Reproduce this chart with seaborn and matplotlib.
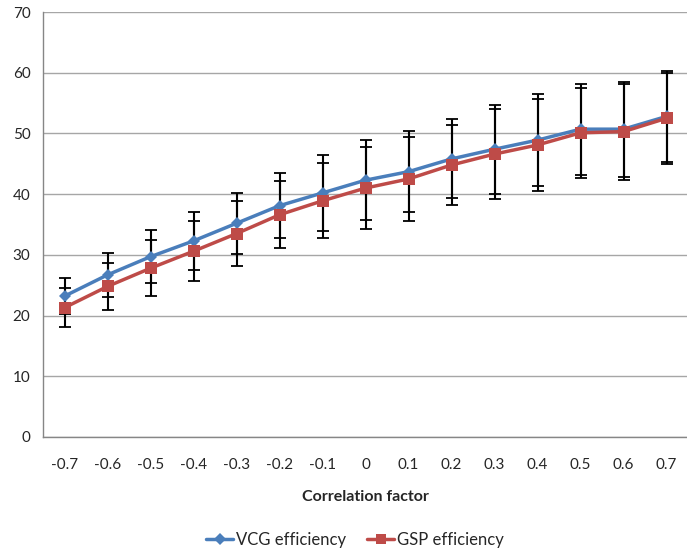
import matplotlib
matplotlib.use("Agg")
import matplotlib.pyplot as plt
import seaborn as sns
import pandas as pd
import numpy as np

categories = ["-0.7", "-0.6", "-0.5", "-0.4", "-0.3", "-0.2", "-0.1", "0",
              "0.1", "0.2", "0.3", "0.4", "0.5", "0.6", "0.7"]
vcg = [23.2, 26.7, 29.7, 32.3, 35.2, 38.1, 40.2, 42.3, 43.7, 45.8, 47.4, 48.9, 50.7, 50.7, 52.8]
gsp = [21.3, 24.8, 27.8, 30.6, 33.5, 36.6, 38.9, 41.0, 42.5, 44.8, 46.6, 48.1, 50.1, 50.3, 52.5]
vcg_err = [3.0, 3.6, 4.4, 4.8, 5.0, 5.4, 6.2, 6.6, 6.7, 6.5, 7.3, 7.6, 7.5, 7.8, 7.5]
gsp_err = [3.2, 3.9, 4.6, 4.9, 5.3, 5.5, 6.2, 6.7, 6.9, 6.6, 7.4, 7.6, 7.4, 7.9, 7.5]

sns.set_style("white")
plt.rcParams['font.family'] = ['Lato', 'DejaVu Sans']

blue = "#4A7EBB"
red = "#BE4B48"
grid_c = "#A6A6A6"

idx = np.arange(len(categories))
df = pd.DataFrame({
    "pos": np.concatenate([idx, idx]),
    "value": vcg + gsp,
    "series": ["VCG efficiency"] * len(idx) + ["GSP efficiency"] * len(idx),
})

fig = plt.figure(figsize=(6.87, 5.57), dpi=100)
ax = fig.add_axes([43 / 687, 1 - 437 / 557, (688 - 43) / 687, (437 - 12) / 557])

# error bars (behind the lines)
ax.errorbar(idx, vcg, yerr=vcg_err, fmt="none", ecolor="black", elinewidth=1.5,
            capsize=4, capthick=1.3, zorder=2)
ax.errorbar(idx, gsp, yerr=gsp_err, fmt="none", ecolor="black", elinewidth=1.5,
            capsize=4, capthick=1.3, zorder=2)

sns.lineplot(data=df, x="pos", y="value", hue="series", style="series",
             palette={"VCG efficiency": blue, "GSP efficiency": red},
             markers={"VCG efficiency": "D", "GSP efficiency": "s"},
             dashes=False, linewidth=2.5, markersize=7.5, markeredgewidth=0,
             ax=ax, legend=False, zorder=3)
for line in ax.lines:
    if line.get_marker() == "D":
        line.set_markersize(6.5)
    elif line.get_marker() == "s":
        line.set_markersize(8)

ax.set_xlim(-0.5, len(categories) - 0.5)
ax.set_ylim(0, 70)
ax.set_yticks(np.arange(0, 71, 10))
ax.set_xticks(idx)
ax.set_xticklabels(categories)
ax.set_xticks(np.arange(-0.5, len(categories), 1), minor=True)
ax.tick_params(axis="x", which="major", length=0, pad=15, labelsize=11)
ax.tick_params(axis="x", which="minor", length=5, color="#868686", width=1, direction="out")
ax.tick_params(axis="y", which="major", length=5, color="#868686", width=1, direction="out",
               labelsize=11, pad=4)
ax.yaxis.grid(True, color=grid_c, linewidth=1)
ax.set_axisbelow(True)
for s in ["top", "right"]:
    ax.spines[s].set_visible(False)
for s in ["left", "bottom"]:
    ax.spines[s].set_color("#868686")
    ax.spines[s].set_linewidth(1)
ax.set_xlabel("Correlation factor", fontsize=11.5, fontweight="bold", labelpad=13)
ax.set_ylabel("")

from matplotlib.lines import Line2D
handles = [
    Line2D([0], [0], color=blue, lw=2.5, marker="D", markersize=6, markeredgewidth=0),
    Line2D([0], [0], color=red, lw=2.5, marker="s", markersize=7.5, markeredgewidth=0),
]
fig.legend(handles, ["VCG efficiency", "GSP efficiency"], loc="center",
           bbox_to_anchor=(355 / 687, 1 - 540 / 557), ncol=2, frameon=False,
           fontsize=12, handlelength=1.6, handletextpad=0.15, columnspacing=1.3)

fig.savefig("out.png", dpi=100)
